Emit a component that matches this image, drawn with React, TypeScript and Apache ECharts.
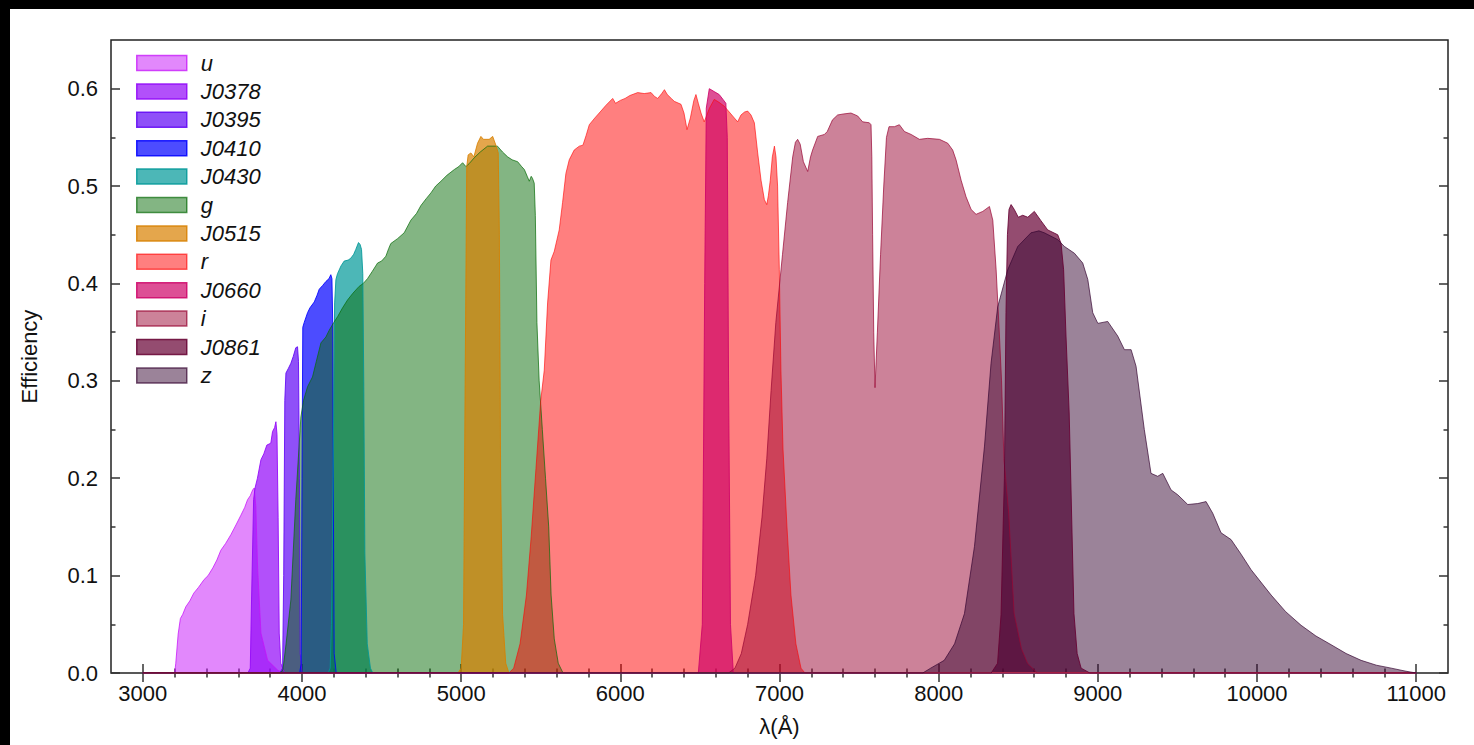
import React, { useEffect, useRef } from "react";
import * as echarts from "echarts";

const FONT = "'Liberation Sans', Arial, Helvetica, sans-serif";

const X_MIN = 2800;
const X_MAX = 11200;
const Y_MIN = 0;
const Y_MAX = 0.65;

const xMajor = [3000, 4000, 5000, 6000, 7000, 8000, 9000, 10000, 11000];
const xMinor = [3200, 3400, 3600, 3800, 4200, 4400, 4600, 4800, 5200, 5400, 5600, 5800, 6200, 6400, 6600, 6800, 7200, 7400, 7600, 7800, 8200, 8400, 8600, 8800, 9200, 9400, 9600, 9800, 10200, 10400, 10600, 10800];
const yMajor = [0, 0.1, 0.2, 0.3, 0.4, 0.5, 0.6];
const yMinor = [0.05, 0.15, 0.25, 0.35, 0.45, 0.55];

const names = ["u", "J0378", "J0395", "J0410", "J0430", "g", "J0515", "r", "J0660", "i", "J0861", "z"];

const fills = [
  "rgba(197,17,249,0.5)",
  "rgba(145,5,248,0.7)",
  "rgba(95,5,245,0.7)",
  "rgba(0,0,255,0.7)",
  "rgba(0,152,152,0.7)",
  "rgba(7,107,7,0.5)",
  "rgba(216,128,0,0.7)",
  "rgba(255,0,0,0.5)",
  "rgba(206,4,104,0.7)",
  "rgba(153,5,51,0.5)",
  "rgba(102,0,51,0.7)",
  "rgba(55,7,51,0.5)",
];
const strokes = [
  "rgba(197,17,249,0.75)",
  "rgba(145,5,248,0.85)",
  "rgba(95,5,245,0.85)",
  "rgba(0,0,255,0.85)",
  "rgba(0,152,152,0.85)",
  "rgba(7,107,7,0.7)",
  "rgba(216,128,0,0.85)",
  "rgba(255,0,0,0.6)",
  "rgba(206,4,104,0.85)",
  "rgba(153,5,51,0.7)",
  "rgba(102,0,51,0.85)",
  "rgba(55,7,51,0.7)",
];

const uData = [[3000,0],[3200,0],[3207,0.01],[3222,0.04],[3236,0.056],[3250,0.06],[3270,0.068],[3295,0.074],[3320,0.082],[3350,0.088],[3385,0.096],[3410,0.1],[3440,0.108],[3465,0.116],[3490,0.126],[3520,0.133],[3553,0.142],[3585,0.152],[3616,0.162],[3640,0.17],[3658,0.178],[3675,0.182],[3690,0.188],[3700,0.19],[3710,0.171],[3721,0.109],[3742,0.041],[3784,0.013],[3847,0.003],[3880,0],[11000,0]];
const j0378Data = [[3000,0],[3660,0],[3675,0.005],[3683,0.075],[3696,0.178],[3705,0.19],[3720,0.2],[3742,0.219],[3760,0.225],[3779,0.234],[3804,0.236],[3815,0.248],[3828,0.252],[3836,0.258],[3843,0.245],[3850,0.16],[3857,0.041],[3867,0.01],[3890,0],[11000,0]];
const j0395Data = [[3000,0],[3860,0],[3878,0.005],[3885,0.1],[3892,0.28],[3899,0.308],[3915,0.313],[3930,0.318],[3945,0.325],[3961,0.334],[3972,0.335],[3978,0.32],[3984,0.2],[3989,0.02],[4000,0],[11000,0]];
const j0410Data = [[3000,0],[3985,0],[3995,0.01],[4000,0.2],[4005,0.355],[4014,0.36],[4035,0.37],[4050,0.375],[4077,0.381],[4095,0.388],[4108,0.394],[4130,0.398],[4150,0.402],[4170,0.405],[4181,0.409],[4188,0.405],[4193,0.36],[4198,0.15],[4202,0.02],[4215,0],[11000,0]];
const j0430Data = [[3000,0],[4165,0],[4177,0.005],[4185,0.05],[4195,0.2],[4205,0.38],[4213,0.404],[4223,0.41],[4245,0.418],[4265,0.423],[4290,0.424],[4307,0.426],[4325,0.43],[4338,0.435],[4355,0.442],[4365,0.44],[4374,0.435],[4382,0.41],[4388,0.3],[4395,0.123],[4410,0.03],[4430,0.005],[4445,0],[11000,0]];
const gData = [[3000,0],[3860,0],[3880,0.003],[3900,0.03],[3930,0.075],[3961,0.178],[3993,0.263],[4010,0.28],[4035,0.294],[4066,0.304],[4090,0.32],[4119,0.339],[4150,0.345],[4171,0.352],[4200,0.36],[4224,0.366],[4255,0.375],[4286,0.383],[4320,0.39],[4359,0.397],[4385,0.4],[4412,0.405],[4440,0.412],[4475,0.421],[4500,0.423],[4527,0.428],[4545,0.436],[4558,0.441],[4600,0.446],[4642,0.452],[4684,0.465],[4720,0.472],[4747,0.48],[4780,0.487],[4810,0.493],[4840,0.5],[4873,0.505],[4910,0.511],[4957,0.517],[4985,0.52],[5009,0.524],[5030,0.52],[5050,0.523],[5082,0.529],[5120,0.535],[5166,0.541],[5200,0.541],[5228,0.541],[5260,0.535],[5292,0.53],[5320,0.527],[5355,0.525],[5380,0.52],[5397,0.517],[5415,0.51],[5428,0.505],[5440,0.51],[5448,0.508],[5459,0.503],[5466,0.47],[5476,0.36],[5490,0.3],[5510,0.25],[5530,0.2],[5550,0.15],[5565,0.08],[5585,0.035],[5610,0.01],[5640,0],[11000,0]];
const j0515Data = [[3000,0],[4980,0],[5000,0.005],[5015,0.05],[5025,0.3],[5035,0.52],[5044,0.532],[5061,0.534],[5080,0.53],[5103,0.544],[5124,0.551],[5140,0.548],[5176,0.548],[5198,0.551],[5218,0.542],[5233,0.534],[5240,0.45],[5248,0.2],[5260,0.06],[5280,0.01],[5300,0],[11000,0]];
const rData = [[3000,0],[5300,0],[5330,0.005],[5370,0.03],[5410,0.08],[5440,0.14],[5470,0.21],[5500,0.28],[5522,0.311],[5543,0.38],[5564,0.424],[5585,0.433],[5616,0.455],[5637,0.483],[5658,0.513],[5679,0.527],[5710,0.537],[5742,0.541],[5765,0.542],[5785,0.552],[5805,0.563],[5840,0.57],[5878,0.577],[5910,0.583],[5952,0.59],[5970,0.585],[6000,0.588],[6030,0.59],[6060,0.593],[6109,0.596],[6150,0.595],[6193,0.596],[6215,0.592],[6235,0.59],[6260,0.595],[6277,0.599],[6295,0.594],[6320,0.59],[6339,0.587],[6381,0.584],[6400,0.575],[6419,0.558],[6440,0.57],[6462,0.588],[6475,0.594],[6490,0.585],[6507,0.575],[6527,0.566],[6560,0.58],[6590,0.589],[6620,0.586],[6653,0.582],[6674,0.578],[6695,0.574],[6716,0.57],[6737,0.566],[6758,0.573],[6780,0.576],[6800,0.577],[6821,0.573],[6842,0.565],[6863,0.534],[6884,0.506],[6905,0.486],[6920,0.481],[6930,0.49],[6942,0.506],[6955,0.53],[6968,0.541],[6978,0.53],[6988,0.5],[6999,0.414],[7009,0.311],[7022,0.23],[7047,0.15],[7072,0.08],[7103,0.03],[7135,0.005],[7160,0],[11000,0]];
const j0660Data = [[3000,0],[6490,0],[6515,0.05],[6530,0.4],[6540,0.58],[6559,0.6],[6590,0.597],[6621,0.594],[6645,0.589],[6663,0.585],[6672,0.55],[6680,0.3],[6692,0.05],[6710,0],[11000,0]];
const iData = [[3000,0],[6680,0],[6720,0.005],[6760,0.02],[6800,0.05],[6850,0.1],[6890,0.16],[6920,0.22],[6947,0.29],[6977,0.36],[7019,0.43],[7051,0.483],[7083,0.53],[7100,0.545],[7114,0.548],[7130,0.543],[7150,0.525],[7177,0.515],[7195,0.53],[7208,0.537],[7240,0.551],[7282,0.553],[7300,0.556],[7333,0.568],[7365,0.573],[7400,0.574],[7449,0.575],[7491,0.572],[7522,0.566],[7564,0.565],[7575,0.563],[7580,0.53],[7585,0.45],[7592,0.35],[7600,0.293],[7615,0.35],[7635,0.43],[7655,0.5],[7672,0.55],[7688,0.561],[7722,0.561],[7753,0.563],[7785,0.556],[7827,0.553],[7879,0.548],[7931,0.549],[8005,0.548],[8057,0.544],[8088,0.537],[8109,0.527],[8141,0.506],[8172,0.489],[8204,0.476],[8235,0.471],[8277,0.474],[8319,0.479],[8340,0.465],[8361,0.414],[8382,0.346],[8395,0.3],[8410,0.22],[8440,0.164],[8474,0.061],[8520,0.025],[8558,0.01],[8620,0],[11000,0]];
const j0861Data = [[3000,0],[8330,0],[8370,0.01],[8392,0.06],[8405,0.15],[8413,0.2],[8423,0.37],[8432,0.45],[8442,0.476],[8455,0.481],[8475,0.476],[8500,0.468],[8528,0.47],[8560,0.468],[8601,0.474],[8640,0.465],[8685,0.455],[8748,0.45],[8769,0.441],[8785,0.414],[8800,0.346],[8820,0.267],[8850,0.061],[8870,0.02],[8895,0.005],[8950,0],[11000,0]];
const zData = [[3000,0],[7900,0],[7950,0.005],[8035,0.013],[8100,0.03],[8162,0.061],[8225,0.13],[8288,0.233],[8329,0.318],[8371,0.376],[8434,0.414],[8497,0.438],[8580,0.452],[8630,0.454],[8664,0.452],[8748,0.445],[8790,0.438],[8853,0.431],[8905,0.421],[8937,0.404],[8968,0.37],[9000,0.359],[9062,0.361],[9125,0.346],[9167,0.332],[9209,0.332],[9240,0.315],[9292,0.25],[9334,0.205],[9376,0.202],[9408,0.205],[9460,0.188],[9502,0.183],[9565,0.173],[9628,0.174],[9680,0.176],[9722,0.164],[9774,0.144],[9837,0.137],[9900,0.122],[9963,0.106],[10089,0.08],[10180,0.063],[10277,0.049],[10370,0.038],[10466,0.029],[10560,0.02],[10654,0.013],[10750,0.008],[10843,0.005],[10930,0.002],[11000,0]];

const datas = [uData, j0378Data, j0395Data, j0410Data, j0430Data, gData, j0515Data, rData, j0660Data, iData, j0861Data, zData];

export default function App() {
  const ref = useRef<HTMLDivElement>(null);
  useEffect(() => {
    if (!ref.current) return;
    const chart = echarts.init(ref.current, undefined, { renderer: "svg" });
    const tickStyle = { color: "#333", width: 1.5 };
    const xBase = { type: "value", min: X_MIN, max: X_MAX, splitLine: { show: false }, axisLine: { show: false } };
    const yBase = { type: "value", min: Y_MIN, max: Y_MAX, splitLine: { show: false }, axisLine: { show: false } };
    const option: any = {
      animation: false,
      backgroundColor: "#fff",
      textStyle: { fontFamily: FONT },
      grid: { left: 100, top: 31, width: 1338, height: 633, show: true, borderColor: "#222", borderWidth: 1.5, backgroundColor: "transparent" },
      legend: {
        orient: "vertical",
        left: 126,
        top: 43,
        padding: 0,
        itemWidth: 50,
        itemHeight: 15,
        itemGap: 6.4,
        icon: "rect",
        selectedMode: false,
        textStyle: { fontSize: 22, fontStyle: "italic", lineHeight: 22, color: "#111", fontFamily: FONT, padding: [0, 0, 0, 9] },
        data: names.map((n, i) => ({ name: n, itemStyle: { color: fills[i], borderColor: strokes[i], borderWidth: 1.5 } })),
      },
      xAxis: [
        {
          ...xBase,
          position: "bottom",
          axisTick: { customValues: xMajor, inside: true, length: 9, lineStyle: tickStyle },
          axisLabel: { customValues: xMajor, fontSize: 22, color: "#111", margin: 9, fontFamily: FONT, formatter: (v: number) => String(Math.round(v)) },
          name: "λ(Å)",
          nameLocation: "middle",
          nameGap: 42,
          nameTextStyle: { fontSize: 22, color: "#111", fontFamily: FONT },
        },
        { ...xBase, position: "bottom", axisTick: { customValues: xMinor, inside: true, length: 4.5, lineStyle: tickStyle }, axisLabel: { show: false } },
        { ...xBase, position: "top", axisTick: { customValues: xMajor, inside: true, length: 9, lineStyle: tickStyle }, axisLabel: { show: false } },
        { ...xBase, position: "top", axisTick: { customValues: xMinor, inside: true, length: 4.5, lineStyle: tickStyle }, axisLabel: { show: false } },
      ],
      yAxis: [
        {
          ...yBase,
          position: "left",
          axisTick: { customValues: yMajor, inside: true, length: 9, lineStyle: tickStyle },
          axisLabel: { customValues: yMajor, fontSize: 22, color: "#111", margin: 13, fontFamily: FONT, formatter: (v: number) => v.toFixed(1) },
          name: "Efficiency",
          nameLocation: "middle",
          nameGap: 71,
          nameTextStyle: { fontSize: 22, color: "#111", fontFamily: FONT },
        },
        { ...yBase, position: "left", axisTick: { customValues: yMinor, inside: true, length: 4.5, lineStyle: tickStyle }, axisLabel: { show: false } },
        { ...yBase, position: "right", axisTick: { customValues: yMajor, inside: true, length: 9, lineStyle: tickStyle }, axisLabel: { show: false } },
        { ...yBase, position: "right", axisTick: { customValues: yMinor, inside: true, length: 4.5, lineStyle: tickStyle }, axisLabel: { show: false } },
      ],
      series: names.map((n, i) => ({
        name: n,
        type: "line",
        xAxisIndex: 0,
        yAxisIndex: 0,
        data: datas[i],
        showSymbol: false,
        symbol: "none",
        silent: true,
        lineStyle: { color: strokes[i], width: 1 },
        itemStyle: { color: fills[i] },
        areaStyle: { color: fills[i], opacity: 1 },
      })),
    };
    chart.setOption(option);
    return () => chart.dispose();
  }, []);
  return (
    <div style={{ position: "fixed", left: 0, top: 0, width: 1474, height: 745, background: "#000" }}>
      <div ref={ref} style={{ position: "absolute", left: 10, top: 9, width: 1464, height: 736, background: "#fff" }} />
    </div>
  );
}
